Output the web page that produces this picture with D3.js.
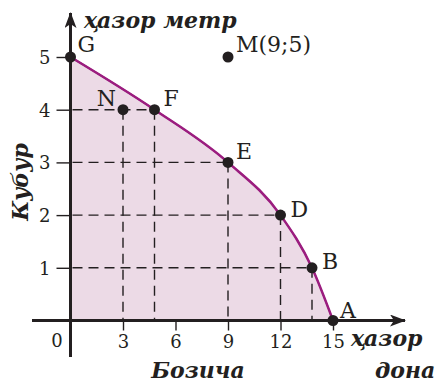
<!DOCTYPE html>
<html>
<head>
<meta charset="utf-8">
<script src="https://cdn.jsdelivr.net/npm/d3@7"></script>
<style>
  body { margin: 0; background: #fff; }
  svg text { font-family: "DejaVu Serif", serif; fill: #231f20; }
  .title { font-weight: bold; font-style: italic; font-size: 22px; }
</style>
</head>
<body>
<div id="chart"></div>
<script>
// Production possibilities: pipe (thousand metres) vs. boxes (thousand pieces)
var curveX = [0, 4.8, 9, 12, 13.8, 15],
    curveY = [5, 4, 3, 2, 1, 0],
    curveNames = ['G', 'F', 'E', 'D', 'B', 'A'];

var extraX = [3, 9],
    extraY = [4, 5],
    extraNames = ['N', 'M(9;5)'];

var xTicks = [3, 6, 9, 12, 15],
    yTicks = [1, 2, 3, 4, 5];

var width = 437,
    height = 387,
    ink = '#231f20',
    purple = '#9b1d7f',
    fillColor = '#ecdae6';

var x = d3.scaleLinear().domain([0, 15]).range([70.5, 333]);
var y = d3.scaleLinear().domain([0, 5]).range([320.5, 57]);

var svg = d3.select('#chart').append('svg')
    .attr('width', width)
    .attr('height', height);

var defs = svg.append('defs');
defs.append('marker')
    .attr('id', 'arrow')
    .attr('viewBox', '0 0 16 12')
    .attr('refX', 15)
    .attr('refY', 6)
    .attr('markerWidth', 16)
    .attr('markerHeight', 12)
    .attr('markerUnits', 'userSpaceOnUse')
    .attr('orient', 'auto')
  .append('path')
    .attr('d', 'M0,0 L16,6 L0,12 L4,6 Z')
    .attr('fill', ink);

var pts = curveX.map(function(d, i) { return { x: d, y: curveY[i], name: curveNames[i] }; });
var extra = extraX.map(function(d, i) { return { x: d, y: extraY[i], name: extraNames[i] }; });

// Shaded region under the curve
var area = d3.area()
    .x(function(d) { return x(d.x); })
    .y0(y(0))
    .y1(function(d) { return y(d.y); })
    .curve(d3.curveMonotoneX);

svg.append('path')
    .datum(pts)
    .attr('d', area)
    .attr('fill', fillColor)
    .attr('stroke', purple)
    .attr('stroke-width', 1.5);

// Dashed guide lines
var guides = pts.filter(function(d) { return d.x > 0 && d.y > 0; }).concat([extra[0]]);
var dash = svg.append('g')
    .attr('stroke', ink)
    .attr('stroke-width', 1.4)
    .attr('stroke-dasharray', '10,6')
    .attr('fill', 'none');

dash.selectAll('.h').data(guides.filter(function(d) { return d.name !== 'N'; })).enter()
    .append('line')
    .attr('x1', x(0) + 2).attr('x2', function(d) { return x(d.x); })
    .attr('y1', function(d) { return y(d.y); }).attr('y2', function(d) { return y(d.y); });

dash.selectAll('.v').data(guides).enter()
    .append('line')
    .attr('x1', function(d) { return x(d.x); }).attr('x2', function(d) { return x(d.x); })
    .attr('y1', function(d) { return y(d.y); }).attr('y2', y(0));

// Curve line
var line = d3.line()
    .x(function(d) { return x(d.x); })
    .y(function(d) { return y(d.y); })
    .curve(d3.curveMonotoneX);

svg.append('path')
    .datum(pts)
    .attr('d', line)
    .attr('fill', 'none')
    .attr('stroke', purple)
    .attr('stroke-width', 2.5);

// Axes with ticks
var xAxis = svg.append('g')
    .attr('transform', 'translate(0,' + y(0) + ')')
    .call(d3.axisBottom(x).tickValues(xTicks).tickFormat(d3.format('d')).tickSize(10).tickPadding(4));
var yAxis = svg.append('g')
    .attr('transform', 'translate(' + x(0) + ',0)')
    .call(d3.axisLeft(y).tickValues(yTicks).tickFormat(d3.format('d')).tickSize(14).tickPadding(6));

[xAxis, yAxis].forEach(function(g) {
    g.attr('font-family', '"DejaVu Serif", serif').attr('font-size', 18);
    g.select('.domain').remove();
    g.selectAll('line').attr('stroke', ink).attr('stroke-width', 1.4);
    g.selectAll('text').attr('fill', ink);
});
yAxis.selectAll('text').attr('dy', '0.36em');
xAxis.selectAll('text').attr('dy', '0.75em');

svg.append('text')
    .attr('x', 57).attr('y', 347)
    .attr('text-anchor', 'middle')
    .attr('font-size', 18)
    .text('0');

// Axis lines with arrows
svg.append('line')
    .attr('x1', 32).attr('x2', 405)
    .attr('y1', y(0)).attr('y2', y(0))
    .attr('stroke', ink).attr('stroke-width', 3)
    .attr('marker-end', 'url(#arrow)');
svg.append('line')
    .attr('x1', x(0)).attr('x2', x(0))
    .attr('y1', 357).attr('y2', 13)
    .attr('stroke', ink).attr('stroke-width', 3)
    .attr('marker-end', 'url(#arrow)');

// Points and labels
var labelOffset = {
    'G': [7, -5, 'start'], 'F': [9, -4, 'start'], 'E': [8, -3, 'start'],
    'D': [10, 2, 'start'], 'B': [10, 1, 'start'], 'A': [7, -3, 'start'],
    'N': [-7, -4, 'end'], 'M(9;5)': [8, -5, 'start']
};
var allPts = pts.concat(extra);

svg.selectAll('circle.pt').data(allPts).enter()
    .append('circle')
    .attr('cx', function(d) { return x(d.x); })
    .attr('cy', function(d) { return y(d.y); })
    .attr('r', 5.5)
    .attr('fill', ink);

svg.selectAll('text.pt').data(allPts).enter()
    .append('text')
    .attr('x', function(d) { return x(d.x) + labelOffset[d.name][0]; })
    .attr('y', function(d) { return y(d.y) + labelOffset[d.name][1]; })
    .attr('text-anchor', function(d) { return labelOffset[d.name][2]; })
    .attr('font-size', 22)
    .text(function(d) { return d.name; });

// Axis titles
svg.append('text').attr('class', 'title')
    .attr('x', 84).attr('y', 28)
    .text('ҳазор метр');
svg.append('text').attr('class', 'title')
    .attr('transform', 'translate(28,182) rotate(-90)')
    .attr('text-anchor', 'middle')
    .text('Кубур');
svg.append('text').attr('class', 'title')
    .attr('x', 198).attr('y', 378)
    .attr('text-anchor', 'middle')
    .text('Бозича');
svg.append('text').attr('class', 'title')
    .attr('x', 351).attr('y', 346)
    .text('ҳазор');
svg.append('text').attr('class', 'title')
    .attr('x', 375).attr('y', 378)
    .text('дона');
</script>
</body>
</html>
